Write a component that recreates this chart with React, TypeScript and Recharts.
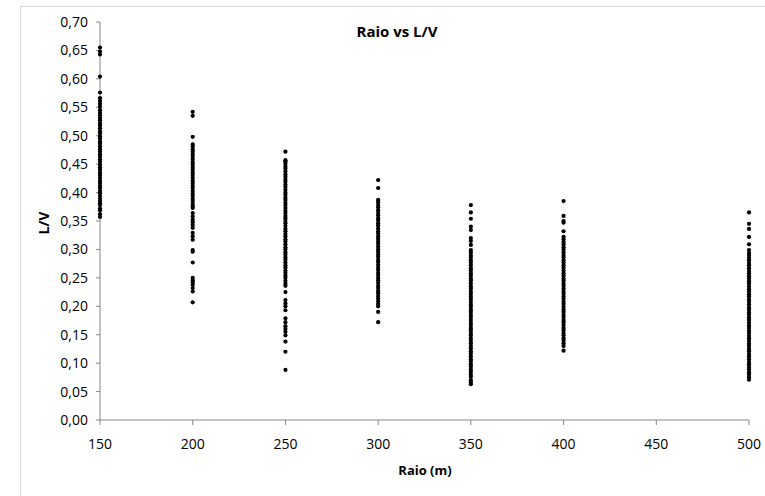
import { ScatterChart, Scatter, XAxis, YAxis } from "recharts"

// raio (m) for each column of points
const radii = [150, 200, 250, 300, 350, 400, 500]

// L/V values
const lv150 = [
  0.655, 0.648, 0.643, 0.604, 0.576, 0.566, 0.561, 0.556, 0.551, 0.545, 0.54,
  0.536, 0.531, 0.527, 0.522, 0.518, 0.513, 0.508, 0.504, 0.499, 0.495, 0.49,
  0.486, 0.481, 0.476, 0.472, 0.467, 0.463, 0.458, 0.454, 0.449, 0.444, 0.44,
  0.435, 0.431, 0.426, 0.421, 0.417, 0.412, 0.408, 0.403, 0.399, 0.394, 0.389,
  0.385, 0.381, 0.378, 0.372, 0.369, 0.362, 0.357,
]
const lv200 = [
  0.542, 0.535, 0.498, 0.485, 0.481, 0.476, 0.472, 0.467, 0.463, 0.458, 0.453,
  0.449, 0.444, 0.44, 0.435, 0.431, 0.426, 0.421, 0.417, 0.412, 0.408, 0.403,
  0.398, 0.394, 0.389, 0.385, 0.38, 0.376, 0.373, 0.364, 0.358, 0.352, 0.348,
  0.343, 0.338, 0.329, 0.323, 0.317, 0.299, 0.296, 0.277, 0.25, 0.246, 0.242,
  0.238, 0.232, 0.226, 0.207,
]
const lv250 = [
  0.472, 0.457, 0.455, 0.451, 0.446, 0.442, 0.437, 0.432, 0.428, 0.423, 0.419,
  0.414, 0.41, 0.405, 0.4, 0.396, 0.391, 0.387, 0.382, 0.378, 0.373, 0.368,
  0.364, 0.359, 0.355, 0.35, 0.346, 0.341, 0.336, 0.332, 0.327, 0.323, 0.318,
  0.314, 0.309, 0.304, 0.3, 0.295, 0.291, 0.286, 0.282, 0.277, 0.272, 0.268,
  0.263, 0.259, 0.254, 0.25, 0.245, 0.24, 0.236, 0.225, 0.211, 0.205, 0.2,
  0.193, 0.179, 0.172, 0.165, 0.16, 0.155, 0.149, 0.138, 0.12, 0.088,
]
const lv300 = [
  0.422, 0.408, 0.387, 0.383, 0.378, 0.374, 0.369, 0.364, 0.36, 0.355, 0.351,
  0.346, 0.342, 0.337, 0.332, 0.328, 0.323, 0.319, 0.314, 0.31, 0.305, 0.3,
  0.296, 0.291, 0.287, 0.282, 0.278, 0.273, 0.268, 0.264, 0.259, 0.255, 0.25,
  0.246, 0.241, 0.236, 0.232, 0.227, 0.223, 0.218, 0.214, 0.209, 0.204, 0.2,
  0.19, 0.172,
]
const lv350 = [
  0.378, 0.365, 0.354, 0.34, 0.334, 0.32, 0.315, 0.308, 0.299, 0.295, 0.29,
  0.286, 0.281, 0.277, 0.272, 0.267, 0.263, 0.258, 0.254, 0.249, 0.245, 0.24,
  0.235, 0.231, 0.226, 0.222, 0.217, 0.213, 0.208, 0.203, 0.199, 0.194, 0.19,
  0.185, 0.181, 0.176, 0.171, 0.167, 0.162, 0.158, 0.153, 0.149, 0.144, 0.139,
  0.135, 0.13, 0.126, 0.121, 0.117, 0.112, 0.107, 0.103, 0.098, 0.094, 0.089,
  0.085, 0.08, 0.076, 0.07, 0.066, 0.063,
]
const lv400 = [
  0.385, 0.359, 0.35, 0.347, 0.332, 0.322, 0.318, 0.313, 0.309, 0.304, 0.3,
  0.295, 0.29, 0.286, 0.281, 0.277, 0.272, 0.268, 0.263, 0.258, 0.254, 0.249,
  0.245, 0.24, 0.236, 0.231, 0.226, 0.222, 0.217, 0.213, 0.208, 0.204, 0.199,
  0.194, 0.19, 0.185, 0.181, 0.176, 0.172, 0.167, 0.162, 0.158, 0.153, 0.149,
  0.144, 0.14, 0.135, 0.13, 0.122,
]
const lv500 = [
  0.365, 0.345, 0.336, 0.322, 0.309, 0.299, 0.294, 0.29, 0.285, 0.281, 0.276,
  0.272, 0.267, 0.262, 0.258, 0.253, 0.249, 0.244, 0.24, 0.235, 0.23, 0.226,
  0.221, 0.217, 0.212, 0.208, 0.203, 0.198, 0.194, 0.189, 0.185, 0.18, 0.176,
  0.171, 0.166, 0.162, 0.157, 0.153, 0.148, 0.144, 0.139, 0.134, 0.13, 0.125,
  0.121, 0.116, 0.112, 0.107, 0.102, 0.098, 0.093, 0.089, 0.084, 0.08, 0.075,
  0.071,
]

const xTicks = [150, 200, 250, 300, 350, 400, 450, 500]
const yTicks = [0, 0.05, 0.1, 0.15, 0.2, 0.25, 0.3, 0.35, 0.4, 0.45, 0.5, 0.55, 0.6, 0.65, 0.7]

const columns = [lv150, lv200, lv250, lv300, lv350, lv400, lv500]
const points = radii.flatMap((raio, i) => columns[i].map((lv) => ({ raio, lv })))

const FONT = "'Open Sans', sans-serif"
const AXIS = "#868686"

const Dot = (props: any) => <circle cx={props.cx} cy={props.cy} r={2.1} fill="#000" />

const App = () => {
  return (
    <div
      style={{
        position: "absolute",
        left: 0,
        top: 0,
        width: 765,
        height: 496,
        background: "#fff",
        overflow: "hidden",
        fontFamily: FONT,
      }}
    >
      <div
        style={{
          position: "absolute",
          left: 20,
          top: 6,
          width: 800,
          height: 600,
          border: "1px solid #d9d9d9",
        }}
      />
      <ScatterChart width={765} height={496} margin={{ top: 22, right: 16, bottom: 46, left: 40 }}>
        <XAxis
          type="number"
          dataKey="raio"
          domain={[150, 500]}
          ticks={xTicks}
          height={30}
          stroke={AXIS}
          tickSize={5}
          tickMargin={14}
          tick={{ fill: "#000", fontSize: 14, fontFamily: FONT }}
        />
        <YAxis
          type="number"
          dataKey="lv"
          domain={[0, 0.7]}
          ticks={yTicks}
          width={60}
          stroke={AXIS}
          tickSize={4}
          tickMargin={8}
          tickFormatter={(v: number) => v.toFixed(2).replace(".", ",")}
          tick={{ fill: "#000", fontSize: 14, fontFamily: FONT }}
        />
        <Scatter data={points} shape={Dot} isAnimationActive={false} />
      </ScatterChart>
      <div
        style={{
          position: "absolute",
          left: 297,
          top: 21,
          width: 200,
          textAlign: "center",
          fontWeight: "bold",
          fontSize: 15,
        }}
      >
        Raio vs L/V
      </div>
      <div
        style={{
          position: "absolute",
          left: 325,
          top: 461,
          width: 200,
          textAlign: "center",
          fontWeight: "bold",
          fontSize: 13,
        }}
      >
        Raio (m)
      </div>
      <div
        style={{
          position: "absolute",
          left: 43,
          top: 223,
          transform: "translate(-50%, -50%) rotate(-90deg)",
          fontWeight: "bold",
          fontSize: 14,
          whiteSpace: "nowrap",
        }}
      >
        L/V
      </div>
    </div>
  )
}

export default App
